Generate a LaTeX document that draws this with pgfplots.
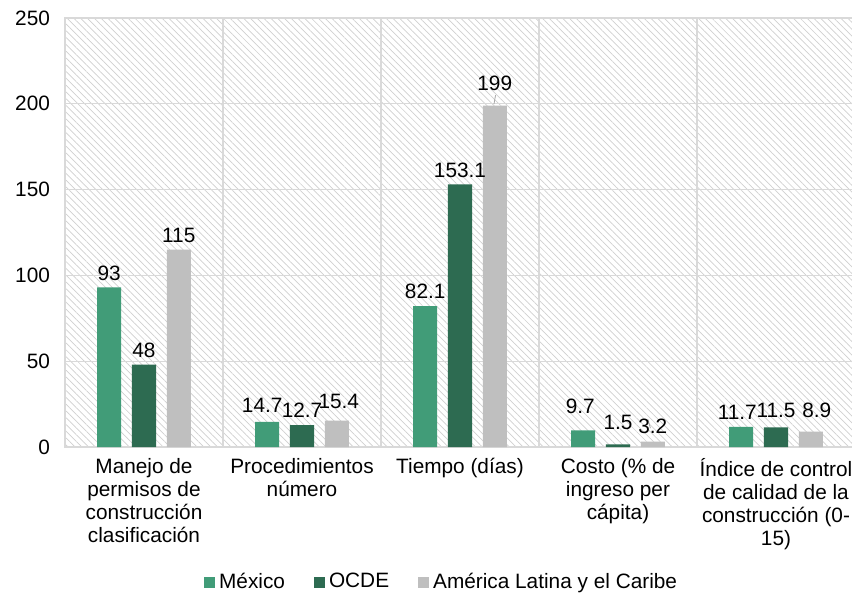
\documentclass[border=0pt]{standalone}
\usepackage{pgfplots}
\pgfplotsset{compat=1.18}
\usepackage{pgfplotstable}
\usepackage{fontspec}
\setmainfont{Liberation Sans}
\usetikzlibrary{patterns.meta,calc}
\definecolor{mex}{HTML}{419C78}
\definecolor{ocde}{HTML}{2D6B51}
\definecolor{alc}{HTML}{BFBFBF}
\definecolor{gridc}{HTML}{D9D9D9}
\pgfplotstableread{
x y dy dx
0 93 0 0
1 14.7 1 -2.5
2 82.1 0 0
3 9.7 5 -1.5
4 11.7 0 -2
}\mex
\pgfplotstableread{
x y dy dx
0 48 0 0
1 12.7 0.5 0
2 153.1 0 0
3 1.5 4 0
4 11.5 1.5 0
}\ocde
\pgfplotstableread{
x y dy dx
0 115 0 0
1 15.4 2.3 1
2 199 4 0
3 3.2 0.5 0
4 8.9 3.4 3
}\alc
\begin{document}
\begin{tikzpicture}[font=\fontsize{10.4}{11.5}\selectfont]
\begin{axis}[name=ax,
  scale only axis, width=395pt, height=214.5pt,
  ybar, bar width=0.152,
  xmin=-0.5, xmax=4.5, ymin=0, ymax=250,
  ytick={0,50,...,250},
  xtick={0,1,2,3,4},
  minor xtick={-0.5,0.5,1.5,2.5,3.5,4.5},
  xticklabels={{Manejo de\\permisos de\\construcción\\clasificación},{Procedimientos\\número},{Tiempo (días)},{Costo (\% de\\ingreso per\\cápita)},{Índice de control\\de calidad de la\\construcción (0-\\15)}},
  xticklabel style={align=center, anchor=north, yshift=-2pt, font=\fontsize{10.4}{11.5}\selectfont},
  yticklabel style={xshift=-4pt, font=\fontsize{10.4}{11.5}\selectfont},
  /pgf/number format/assume math mode=true,
  major tick length=0pt, minor tick length=0pt,
  ymajorgrids, xminorgrids,
  grid style={gridc, line width=0.6pt},
  minor grid style={gridc, line width=0.6pt},
  axis line style={gridc, line width=0.6pt},
  axis background/.style={pattern={Lines[angle=-45,distance=2.4pt,line width=0.35pt]}, pattern color=gray!38},
  nodes near coords,
  visualization depends on={\thisrow{dy} \as \dy},
  visualization depends on={\thisrow{dx} \as \dx},
  every node near coord/.append style={font=\fontsize{10.4}{11.5}\selectfont, black, inner xsep=0pt, yshift=\dy pt, xshift=\dx pt},
  legend columns=-1,
  legend style={draw=none, fill=none, at={(0.478,-0.315)}, anchor=center, font=\fontsize{10.4}{11.5}\selectfont,
    /tikz/every even column/.append style={column sep=12.5pt}},
  legend image code/.code={\fill[#1] (0pt,-2.75pt) rectangle (5.5pt,2.75pt);},
]
\addplot[fill=mex, draw=none, bar shift=-0.22] table[x=x,y=y] {\mex};
\addplot[fill=ocde, draw=none, bar shift=0] table[x=x,y=y] {\ocde};
\addplot[fill=alc, draw=none, bar shift=0.22] table[x=x,y=y] {\alc};
\legend{México, OCDE, América Latina y el Caribe}
\draw[gray!70, line width=0.4pt] (axis cs:2.215,199.8) -- (axis cs:2.225,205);
\draw[gray!70, line width=0.4pt] (axis cs:3.205,11) -- (axis cs:3.19,16);
\end{axis}
\pgfresetboundingbox
\path[use as bounding box] ($(ax.south west)+(-32.5pt,-74.5pt)$) rectangle ++(426pt,298pt);
\end{tikzpicture}
\end{document}
